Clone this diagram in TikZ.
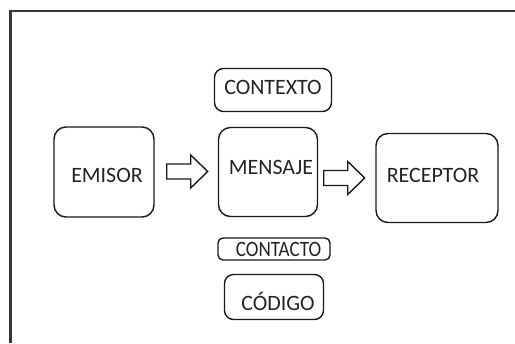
\documentclass[tikz,border=0pt]{standalone}
\usepackage{fontspec}
\setmainfont{Carlito}
\usepackage{graphicx}
\definecolor{frameline}{RGB}{55,55,55}
\definecolor{boxline}{RGB}{25,25,25}
\definecolor{boxtext}{RGB}{35,35,35}
\usetikzlibrary{calc}

\begin{document}
\begin{tikzpicture}[x=1bp,y=-1bp,
  box/.style={draw=boxline,line width=1.4bp,rounded corners=12bp,inner sep=0pt,
    text=boxtext,font=\fontsize{22}{26}\selectfont},
  tag/.style={box,rounded corners=9bp},
  hollow/.style={draw=boxline,line width=1.4bp,fill=white,line join=miter}]
  \useasboundingbox (0,0) rectangle (515,343);
  % outer frame, open at the bottom and right
  \draw[frameline,line width=2.6bp] (10.5,343) -- (10.5,11) -- (515,11);

  \node[box,minimum width=100bp,minimum height=90bp] (emisor) at (104,172)
    {\hspace*{6bp}\raisebox{-3bp}[\height][\depth]{EMISOR}};
  \node[box,minimum width=99bp,minimum height=89bp] (mensaje) at (268,172)
    {\hspace*{6bp}\raisebox{5bp}[\height][\depth]{MENSAJE}};
  \node[box,minimum width=122bp,minimum height=89bp] (receptor) at (437,178)
    {\raisebox{3bp}[\height][\depth]{RECEPTOR}\hspace*{8bp}};
  \node[tag,minimum width=117bp,minimum height=43bp] (contexto) at (273,90)
    {\raisebox{3bp}[\height][\depth]{CONTEXTO}};
  \node[tag,rounded corners=5bp,minimum width=112bp,minimum height=22bp] (contacto) at (274,249)
    {\hspace*{9bp}\scalebox{0.87}[1]{CONTACTO}};
  \node[tag,minimum width=99bp,minimum height=45bp] (codigo) at (274,297)
    {\hspace*{8bp}\raisebox{-4bp}[\height][\depth]{CÓDIGO}};

  % hollow block arrows between the boxes
  \coordinate (a1) at ($(emisor.east)+(12,-0.5)$);
  \coordinate (a2) at ($(mensaje.east)+(5.5,6)$);
  \foreach \a in {a1,a2}
    \draw[hollow] (\a) ++(0,-7.5) -- ++(24,0) -- ++(0,-9) -- ++(17,16.5)
      -- ++(-17,16.5) -- ++(0,-9) -- ++(-24,0) -- cycle;
\end{tikzpicture}
\end{document}
